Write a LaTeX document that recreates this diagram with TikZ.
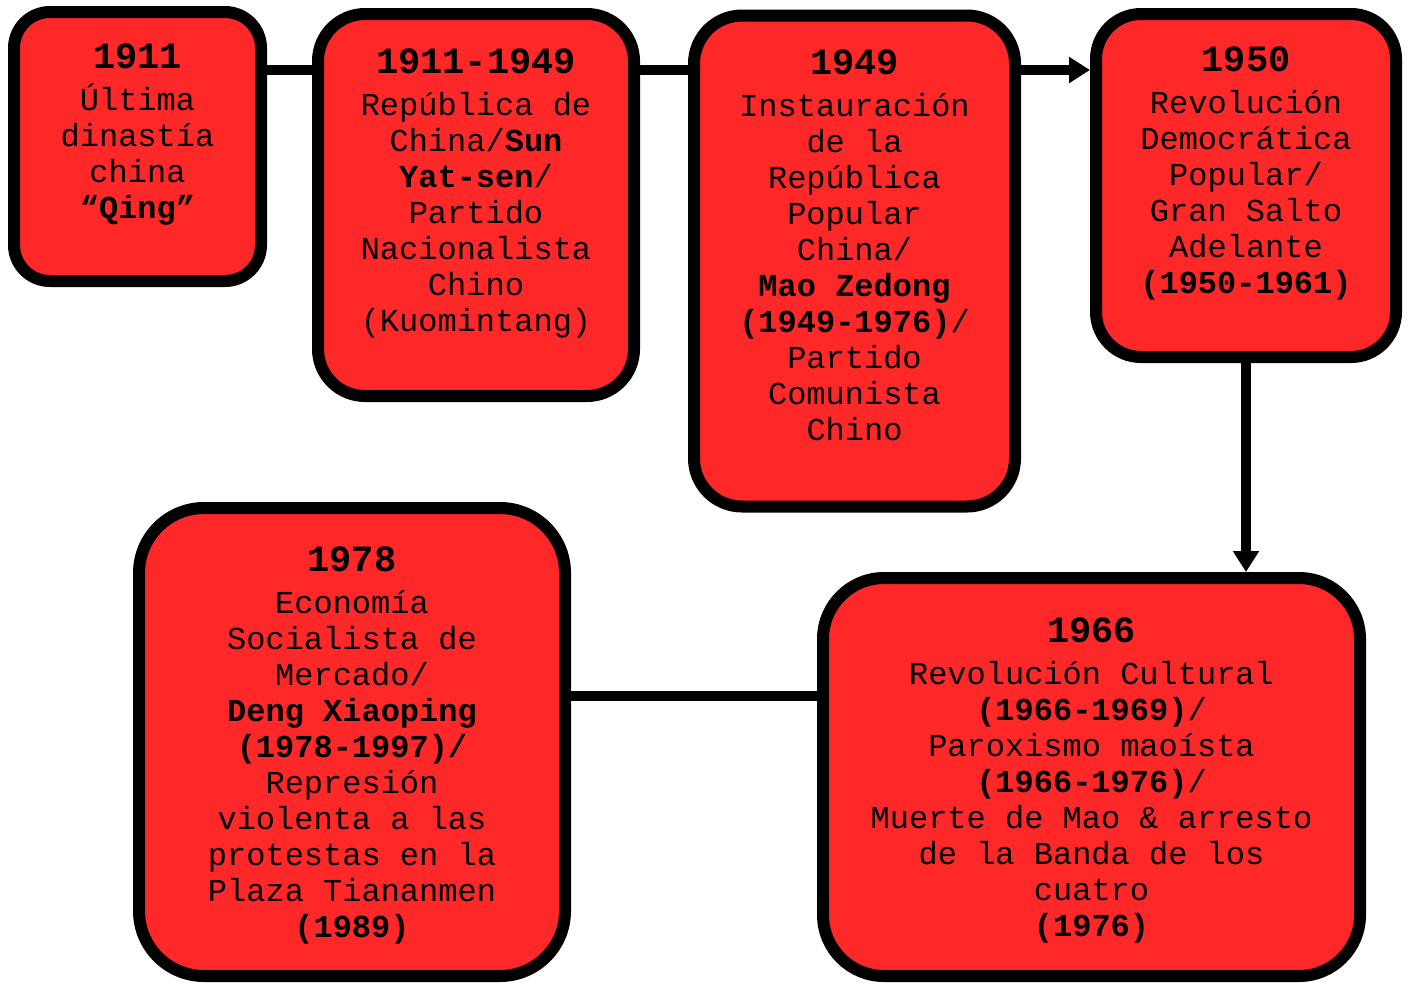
\documentclass[tikz,border=0pt]{standalone}
\usepackage{fontspec}
\setmainfont{Liberation Mono}
\usetikzlibrary{calc}
\usetikzlibrary{arrows.meta}
\definecolor{boxred}{RGB}{255,40,40}
\newcommand{\yr}[1]{{\fontsize{18.5}{18}\selectfont\bfseries #1}\\[3pt]}

\begin{document}
\begin{tikzpicture}[x=0.5pt,y=-0.5pt,
  era/.style={draw,line width=6pt,fill=boxred,align=center,inner sep=0pt,
    font=\fontsize{16}{18}\selectfont},
  link/.style={line width=5pt},
  push/.style={line width=5pt,-{Triangle[length=10.5pt,width=12.5pt]}}]%
\useasboundingbox (0,0) rectangle (1408,982);%
\node[era,text depth=15pt,rounded corners=18pt,minimum width=123.5pt,minimum height=134.5pt] (qing) at (137.5,146.5)
  {\yr{1911}Última\\dinastía\\china\\\textbf{“Qing”}};%
\node[era,text depth=15pt,rounded corners=23.5pt,minimum width=158pt,minimum height=191pt] (roc) at (476,205)
  {\yr{1911-1949}República de\\China/\textbf{Sun}\\\textbf{Yat-sen}/\\Partido\\Nacionalista\\Chino\\(Kuomintang)};%
\node[era,text depth=16pt,rounded corners=24pt,minimum width=160.5pt,minimum height=245.5pt] (prc) at (854.5,261)
  {\yr{1949}Instauración\\de la\\República\\Popular\\China/\\\textbf{Mao Zedong}\\\textbf{(1949-1976)}/\\Partido\\Comunista\\Chino};%
\node[era,text depth=15pt,rounded corners=22.5pt,minimum width=150pt,minimum height=171.5pt] (leap) at (1246,185.5)
  {\yr{1950}Revolución\\Democrática\\Popular/\\Gran Salto\\Adelante\\\textbf{(1950-1961)}};%
\node[era,text depth=-2pt,rounded corners=32.5pt,minimum width=213pt,minimum height=234pt] (deng) at (352,742)
  {\yr{1978}Economía\\Socialista de\\Mercado/\\\textbf{Deng Xiaoping}\\\textbf{(1978-1997)/}\\Represión\\violenta a las\\protestas en la\\Plaza Tiananmen\\\textbf{(1989)}};%
\node[era,text depth=-2pt,rounded corners=30.5pt,minimum width=268.5pt,minimum height=199pt] (cult) at (1091.5,777)
  {\yr{1966}Revolución Cultural\\\textbf{(1966-1969)}/\\Paroxismo maoísta\\\textbf{(1966-1976)}/\\Muerte de Mao \& arresto\\de la Banda de los\\cuatro\\\textbf{(1976)}};%
\coordinate (row) at (0,70);%
\coordinate (low) at (0,696);%
\draw[link] (qing.east |- row) -- (roc.west |- row);%
\draw[link] (roc.east |- row) -- (prc.west |- row);%
\draw[push] (prc.east |- row) -- (leap.west |- row);%
\draw[push] (leap.south) -- (leap.south |- cult.north);%
\draw[link] (deng.east |- low) -- (cult.west |- low);%
\end{tikzpicture}
\end{document}
